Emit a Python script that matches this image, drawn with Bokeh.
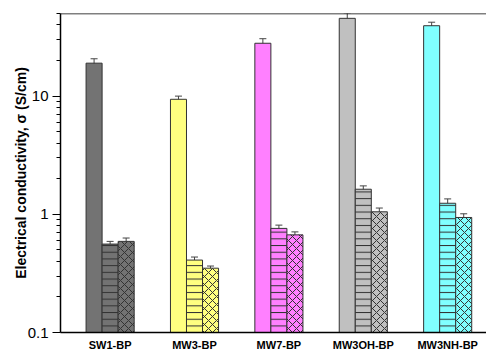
from bokeh.plotting import figure
from bokeh.models import (ColumnDataSource, Range1d, FixedTicker, Whisker, TeeHead, Span)
from bokeh.embed import file_html
from bokeh.resources import INLINE

samples = ["SW1-BP", "MW3-BP", "MW7-BP", "MW3OH-BP", "MW3NH-BP"]
colors = ["#737373", "#ffff80", "#ff80ff", "#c0c0c0", "#80ffff"]
sigma_solid = [19.0, 9.4, 28.0, 45.5, 39.4]
err_solid = [1.7, 0.6, 2.6, 5.0, 2.8]
sigma_hline = [0.56, 0.41, 0.76, 1.63, 1.24]
err_hline = [0.03, 0.025, 0.05, 0.11, 0.11]
sigma_cross = [0.59, 0.35, 0.67, 1.05, 0.94]
err_cross = [0.04, 0.015, 0.04, 0.08, 0.07]

series = [
    (sigma_solid, err_solid, None, -0.19),
    (sigma_hline, err_hline, "horizontal_line", 0.0),
    (sigma_cross, err_cross, "diagonal_cross", 0.19),
]

FONT = "Liberation Sans"
BW = 0.19

p = figure(width=486, height=353, output_backend="svg", toolbar_location=None,
           y_axis_type="log", x_range=Range1d(0.412, 5.46), y_range=Range1d(0.1, 50),
           min_border_left=60, min_border_right=0, min_border_top=13, min_border_bottom=20)
p.outline_line_color = None
p.xgrid.visible = False
p.ygrid.visible = False

centers = list(range(1, len(samples) + 1))
for vals, errs, hatch, off in series:
    xs = [c + off for c in centers]
    src = ColumnDataSource(dict(
        x=xs, top=vals, color=colors,
        upper=[v + e for v, e in zip(vals, errs)],
        lower=[v - e for v, e in zip(vals, errs)],
    ))
    kw = dict(x="x", top="top", bottom=0.1, width=BW, source=src,
              fill_color="color", line_color="#333333", line_width=1)
    if hatch:
        kw.update(hatch_pattern=hatch, hatch_color="#333333", hatch_weight=1,
                  hatch_scale=6.7 if hatch == "horizontal_line" else 8)
    p.vbar(**kw)
    w = Whisker(base="x", upper="upper", lower="lower", source=src,
                line_color="#444444", line_width=1,
                upper_head=TeeHead(size=7, line_color="#444444", line_width=1),
                lower_head=TeeHead(size=7, line_color="#444444", line_width=1))
    p.add_layout(w)

p.add_layout(Span(location=50, dimension="width", line_color="black", line_width=1.5))

# x axis
p.xaxis.ticker = FixedTicker(ticks=centers)
p.xaxis.major_label_overrides = {c: s for c, s in zip(centers, samples)}
p.xaxis.major_tick_line_color = None
p.xaxis.minor_tick_line_color = None
p.xaxis.major_tick_out = 0
p.xaxis.major_label_standoff = 6
p.xaxis.major_label_text_font = FONT
p.xaxis.major_label_text_font_style = "bold"
p.xaxis.major_label_text_font_size = "11px"
p.xaxis.major_label_text_color = "black"
p.xaxis.axis_line_width = 1.5
p.xaxis.axis_line_color = "black"

# y axis
minor = [m * 10 ** d for d in (-1, 0, 1) for m in range(2, 10) if m * 10 ** d <= 50]
p.yaxis.ticker = FixedTicker(ticks=[0.1, 1, 10], minor_ticks=minor)
p.yaxis.major_label_overrides = {0.1: "0.1", 1: "1", 10: "10"}
p.yaxis.major_tick_out = 8
p.yaxis.major_tick_in = 0
p.yaxis.minor_tick_out = 4
p.yaxis.minor_tick_in = 0
p.yaxis.major_tick_line_color = "black"
p.yaxis.minor_tick_line_color = "black"
p.yaxis.axis_line_width = 1.5
p.yaxis.axis_line_color = "black"
p.yaxis.major_label_standoff = 4
p.yaxis.major_label_text_font = FONT
p.yaxis.major_label_text_font_size = "15px"
p.yaxis.major_label_text_color = "black"
p.yaxis.axis_label = "Electrical conductivity, σ (S/cm)"
p.yaxis.axis_label_text_font = FONT
p.yaxis.axis_label_text_font_style = "bold"
p.yaxis.axis_label_text_font_size = "14px"
p.yaxis.axis_label_text_color = "black"
p.yaxis.axis_label_standoff = -4

open("out.html", "w").write(file_html(p, INLINE))
